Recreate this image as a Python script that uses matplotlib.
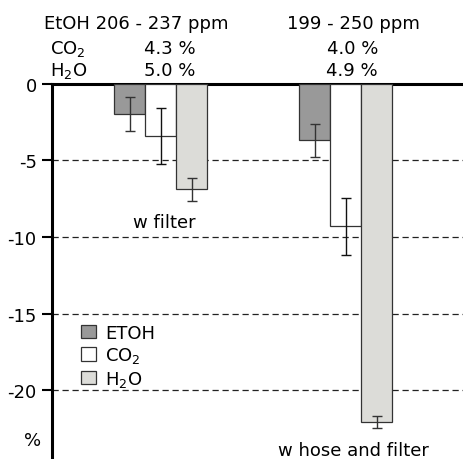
import matplotlib
matplotlib.use("Agg")
import matplotlib.pyplot as plt
from matplotlib.patches import Patch
from matplotlib.transforms import blended_transform_factory
import numpy as np

plt.rcParams['font.family'] = ['DejaVu Sans']
plt.rcParams['mathtext.fontset'] = 'dejavusans'

groups = ["w filter", "w hose and filter"]
series = ["ETOH", "CO$_2$", "H$_2$O"]
etoh = [-2.0, -3.7]
etoh_err = [1.1, 1.1]
co2 = [-3.4, -9.3]
co2_err = [1.83, 1.86]
h2o = [-6.9, -22.1]
h2o_err = [0.73, 0.38]
yticks = [0, -5, -10, -15, -20]
header_etoh = ["EtOH 206 - 237 ppm", "199 - 250 ppm"]
header_co2 = ["4.3 %", "4.0 %"]
header_h2o = ["5.0 %", "4.9 %"]

colors = ["#999999", "#ffffff", "#dcdcd8"]
err_colors = ["#333333", "#111111", "#333333"]
FS = 13

W, H = 464, 460
fig = plt.figure(figsize=(W/100, H/100), dpi=100)
ax_left, ax_right, ax_top, ax_bot = 52, 464, 84.7, 460
ax = fig.add_axes([ax_left/W, 1-ax_bot/H, (ax_right-ax_left)/W, (ax_bot-ax_top)/H])

def fy(py):
    return 1 - py/H

x = np.arange(len(groups))
bw = 0.167
vals = [etoh, co2, h2o]
errs = [etoh_err, co2_err, h2o_err]
for i, (v, e) in enumerate(zip(vals, errs)):
    ax.bar(x + (i-1)*bw, v, bw, color=colors[i], edgecolor="#333333", linewidth=0.9, zorder=3)
    ax.errorbar(x + (i-1)*bw, v, yerr=e, fmt='none', ecolor=err_colors[i], elinewidth=1.0,
                capsize=3.4, capthick=1.0, zorder=4)

ax.set_xlim(-0.588, 1.639)
ax.set_ylim(-(ax_bot-ax_top)/15.32, 0)
for t in yticks[1:]:
    ax.axhline(t, color="#222222", lw=0.9, ls=(0, (5, 3)), zorder=1)
ax.set_yticks(yticks)
ax.set_yticklabels([str(t) for t in yticks], fontsize=FS)
ax.set_xticks([])
ax.tick_params(axis='y', length=7, width=1.5, pad=4)
for s in ['right', 'bottom']:
    ax.spines[s].set_visible(False)
ax.spines['left'].set_linewidth(2.2)
ax.spines['top'].set_linewidth(2.2)

bt = blended_transform_factory(ax.transData, fig.transFigure)

# "%" label
fig.text(32.5/W, fy(446), "%", fontsize=FS, ha='center', va='baseline')

# group labels
ax.text(x[0] + 0.0167, fy(228), groups[0], transform=bt, fontsize=FS, ha='center', va='baseline', zorder=5)
ax.text(x[1] + 0.04, fy(456), groups[1], transform=bt, fontsize=FS, ha='center', va='baseline', zorder=5)

# header
fig.text(44/W, fy(29.3), header_etoh[0], fontsize=FS, ha='left', va='baseline')
fig.text(50/W, fy(54.3), "CO$_2$", fontsize=FS, ha='left', va='baseline')
fig.text(50/W, fy(76), "H$_2$O", fontsize=FS, ha='left', va='baseline')
ax.text(x[1] + 0.04, fy(29.3), header_etoh[1], transform=bt, fontsize=FS, ha='center', va='baseline')
for i, dx in enumerate([0.05, 0.035]):
    ax.text(x[i] + dx, fy(54.3), header_co2[i], transform=bt, fontsize=FS, ha='center', va='baseline')
    ax.text(x[i] + dx, fy(76), header_h2o[i], transform=bt, fontsize=FS, ha='center', va='baseline')

handles = [Patch(facecolor=colors[i], edgecolor="#333333", linewidth=0.9) for i in range(3)]
ax.legend(handles, series, loc='upper left', bbox_to_anchor=(81/W, fy(325)),
          bbox_transform=fig.transFigure, frameon=False, borderpad=0, borderaxespad=0,
          fontsize=FS, handlelength=0.85, handleheight=0.75, handletextpad=0.5, labelspacing=0.18)

fig.savefig("out.png", dpi=100)
